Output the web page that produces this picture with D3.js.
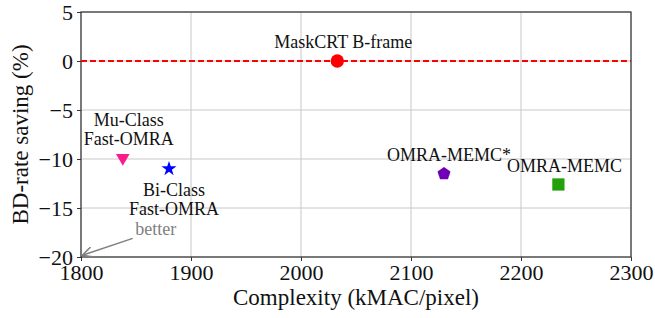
<!DOCTYPE html>
<html>
<head>
<meta charset="utf-8">
<script src="https://cdn.jsdelivr.net/npm/d3@7"></script>
<style>
  body { margin: 0; background: #fff; }
  svg { display: block; }
  svg text { font-family: "Liberation Serif", "Times New Roman", serif; }
</style>
</head>
<body>
<div id="main"></div>
<script>
// data
const methods = ['MaskCRT B-frame', 'Mu-Class Fast-OMRA', 'Bi-Class Fast-OMRA', 'OMRA-MEMC*', 'OMRA-MEMC'];
const complexity = [2033, 1838, 1880, 2130, 2234];
const bdrate = [0, -9.9, -11.0, -11.5, -12.6];
const xTicks = [1800, 1900, 2000, 2100, 2200, 2300];
const yTicks = [5, 0, -5, -10, -15, -20];

const W = 655, H = 318;
const margin = { left: 81, right: 24, top: 12, bottom: 61 };
const serif = '"Liberation Serif", "Times New Roman", serif';

const svg = d3.select('#main').append('svg')
  .attr('width', W).attr('height', H);

const x = d3.scaleLinear().domain([1800, 2300]).range([margin.left, W - margin.right]);
const y = d3.scaleLinear().domain([-20, 5]).range([H - margin.bottom, margin.top]);

const fmt = d => (d < 0 ? '\u2212' + Math.abs(d) : '' + d);

// grid
svg.append('g').selectAll('line').data(xTicks).enter().append('line')
  .attr('x1', d => x(d)).attr('x2', d => x(d))
  .attr('y1', y(-20)).attr('y2', y(5))
  .attr('stroke', '#c8c8c8').attr('stroke-width', 1);
svg.append('g').selectAll('line').data(yTicks).enter().append('line')
  .attr('x1', x(1800)).attr('x2', x(2300))
  .attr('y1', d => y(d)).attr('y2', d => y(d))
  .attr('stroke', '#c8c8c8').attr('stroke-width', 1);

// axes
const xAxis = svg.append('g')
  .attr('transform', `translate(0,${y(-20)})`)
  .call(d3.axisBottom(x).tickValues(xTicks).tickFormat(d => d).tickSize(4).tickPadding(4));
const yAxis = svg.append('g')
  .attr('transform', `translate(${x(1800)},0)`)
  .call(d3.axisLeft(y).tickValues(yTicks).tickFormat(fmt).tickSize(4).tickPadding(4));
[xAxis, yAxis].forEach(a => {
  a.attr('font-family', serif);
  a.select('.domain').remove();
  a.selectAll('line').attr('stroke', '#333');
  a.selectAll('text').attr('font-size', 22).attr('fill', '#111');
});
xAxis.selectAll('text').attr('dy', '0.7em');
yAxis.selectAll('text').attr('dy', '0.35em');

// frame
svg.append('rect')
  .attr('x', x(1800)).attr('y', y(5))
  .attr('width', x(2300) - x(1800)).attr('height', y(-20) - y(5))
  .attr('fill', 'none').attr('stroke', '#333').attr('stroke-width', 1.2);

// zero reference line
svg.append('line')
  .attr('x1', x(1800)).attr('x2', x(2300))
  .attr('y1', y(0)).attr('y2', y(0))
  .attr('stroke', '#ff0000').attr('stroke-width', 2)
  .attr('stroke-dasharray', '6,3');

// markers
const colors = ['#ff0000', '#ff1a8c', '#0000ff', '#7000b8', '#22a10a'];
const shapes = [d3.symbolCircle, d3.symbolTriangle, d3.symbolStar, null, d3.symbolSquare];
const sizes = [140, 80, 70, 0, 150];

const pentagon = (r) => {
  const pts = d3.range(5).map(i => {
    const a = -Math.PI / 2 + i * 2 * Math.PI / 5;
    return [r * Math.cos(a), r * Math.sin(a)];
  });
  return 'M' + pts.map(p => p.join(',')).join('L') + 'Z';
};

svg.append('g').selectAll('path').data(methods).enter().append('path')
  .attr('d', (d, i) => shapes[i] ? d3.symbol().type(shapes[i]).size(sizes[i])() : pentagon(6.8))
  .attr('transform', (d, i) => `translate(${x(complexity[i])},${y(bdrate[i])})` + (i === 1 ? ' rotate(180)' : ''))
  .attr('fill', (d, i) => colors[i]);

// labels (offset from the marker, in px)
const labelLines = [['MaskCRT B-frame'], ['Mu-Class', 'Fast-OMRA'], ['Bi-Class', 'Fast-OMRA'], ['OMRA-MEMC*'], ['OMRA-MEMC']];
const labelDx = [6, 6, 5, 5, 6];
const labelDy = [-13, -32, 27, -13, -12];
labelLines.forEach((lines, i) => {
  const t = svg.append('text')
    .attr('x', x(complexity[i]) + labelDx[i])
    .attr('y', y(bdrate[i]) + labelDy[i])
    .attr('text-anchor', 'middle')
    .attr('font-family', serif)
    .attr('font-size', 18)
    .attr('fill', '#111');
  lines.forEach((l, j) => {
    t.append('tspan')
      .attr('x', x(complexity[i]) + labelDx[i])
      .attr('dy', j === 0 ? 0 : 19)
      .text(l);
  });
});

// "better" annotation arrow pointing to the origin corner
svg.append('defs').append('marker')
  .attr('id', 'arr').attr('viewBox', '0 0 10 10')
  .attr('refX', 9).attr('refY', 5)
  .attr('markerWidth', 7).attr('markerHeight', 7)
  .attr('orient', 'auto-start-reverse')
  .append('path').attr('d', 'M0,0 L10,5 L0,10').attr('fill', 'none')
  .attr('stroke', '#808080').attr('stroke-width', 1.5);
svg.append('line')
  .attr('x1', x(1847)).attr('y1', y(-18.1))
  .attr('x2', x(1802)).attr('y2', y(-19.8))
  .attr('stroke', '#808080').attr('stroke-width', 1.5)
  .attr('marker-end', 'url(#arr)');
svg.append('text')
  .attr('x', x(1868)).attr('y', y(-17.8))
  .attr('text-anchor', 'middle')
  .attr('font-family', serif)
  .attr('font-size', 18).attr('fill', '#808080')
  .text('better');

// axis titles
svg.append('text')
  .attr('x', (x(1800) + x(2300)) / 2).attr('y', 305)
  .attr('text-anchor', 'middle').attr('font-family', serif)
  .attr('font-size', 23).attr('fill', '#111')
  .text('Complexity (kMAC/pixel)');
svg.append('text')
  .attr('transform', `translate(28,${(y(5) + y(-20)) / 2}) rotate(-90)`)
  .attr('text-anchor', 'middle').attr('font-family', serif)
  .attr('font-size', 23).attr('fill', '#111')
  .text('BD-rate saving (%)');
</script>
</body>
</html>
